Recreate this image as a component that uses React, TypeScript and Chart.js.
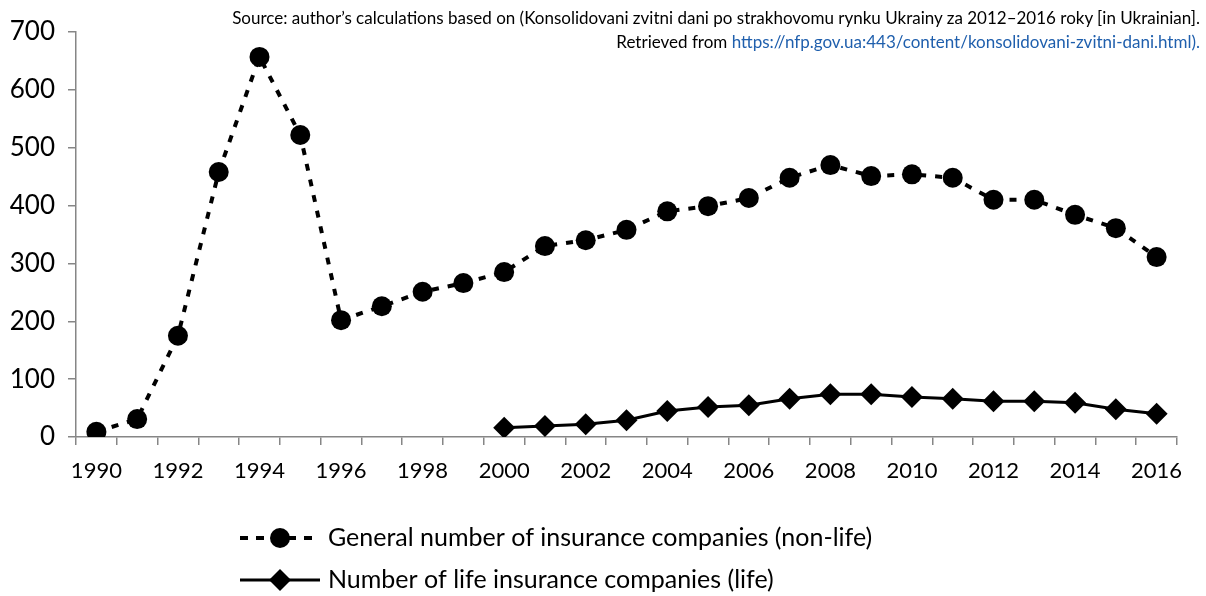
import React, { useEffect, useRef } from "react";
import { Chart, registerables } from "chart.js";

Chart.register(...registerables);

const years: string[] = [
  "1990", "1991", "1992", "1993", "1994", "1995", "1996", "1997", "1998", "1999",
  "2000", "2001", "2002", "2003", "2004", "2005", "2006", "2007", "2008", "2009",
  "2010", "2011", "2012", "2013", "2014", "2015", "2016",
];

const nonLife: number[] = [
  9, 31, 175, 458, 657, 522, 202, 226, 251, 266,
  285, 330, 340, 358, 390, 399, 413, 448, 470, 451,
  454, 448, 410, 410, 384, 361, 311,
];

const life: (number | null)[] = [
  null, null, null, null, null, null, null, null, null, null,
  16, 19, 22, 29, 45, 52, 55, 66, 74, 74,
  69, 66, 62, 62, 59, 48, 40,
];

const seriesNames: string[] = [
  "General number of insurance companies (non-life)",
  "Number of life insurance companies (life)",
];

const yTicks: number[] = [0, 100, 200, 300, 400, 500, 600, 700];

const FONT = "Lato, 'Open Sans', sans-serif";

const legendPlugin = {
  id: "customLegend",
  afterDraw(chart: any) {
    const ctx = chart.ctx as CanvasRenderingContext2D;
    ctx.save();
    const x0 = 240;
    const x1 = 320;
    const cx = 280;
    const rows = [538, 580];
    ctx.strokeStyle = "#000";
    ctx.fillStyle = "#000";
    ctx.lineWidth = 4;
    ctx.setLineDash([8, 8]);
    ctx.beginPath();
    ctx.moveTo(x0, rows[0]);
    ctx.lineTo(x1, rows[0]);
    ctx.stroke();
    ctx.setLineDash([]);
    ctx.beginPath();
    ctx.arc(cx, rows[0], 10, 0, Math.PI * 2);
    ctx.fill();
    ctx.lineWidth = 3;
    ctx.beginPath();
    ctx.moveTo(x0, rows[1]);
    ctx.lineTo(x1, rows[1]);
    ctx.stroke();
    ctx.beginPath();
    ctx.moveTo(cx, rows[1] - 11);
    ctx.lineTo(cx + 11, rows[1]);
    ctx.lineTo(cx, rows[1] + 11);
    ctx.lineTo(cx - 11, rows[1]);
    ctx.closePath();
    ctx.fill();
    ctx.font = `25px ${FONT}`;
    ctx.textBaseline = "middle";
    ctx.textAlign = "left";
    ctx.fillStyle = "#000";
    ctx.fillText(seriesNames[0], 328, rows[0]);
    ctx.fillText(seriesNames[1], 328, rows[1]);
    ctx.restore();
  },
};

export default function App() {
  const ref = useRef<HTMLCanvasElement | null>(null);

  useEffect(() => {
    if (!ref.current) return;
    const chart = new Chart(ref.current, {
      type: "line",
      data: {
        labels: years,
        datasets: [
          {
            label: seriesNames[0],
            data: nonLife,
            borderColor: "#000",
            backgroundColor: "#000",
            borderWidth: 4,
            borderDash: [7, 9],
            pointStyle: "circle",
            pointRadius: 10,
            pointHoverRadius: 10,
            pointBackgroundColor: "#000",
            pointBorderColor: "#000",
            pointBorderWidth: 0,
            tension: 0,
          },
          {
            label: seriesNames[1],
            data: life,
            borderColor: "#000",
            backgroundColor: "#000",
            borderWidth: 3,
            pointStyle: "rectRot",
            pointRadius: 11,
            pointHoverRadius: 11,
            pointBackgroundColor: "#000",
            pointBorderColor: "#000",
            pointBorderWidth: 0,
            tension: 0,
          },
        ],
      },
      options: {
        responsive: false,
        animation: false,
        devicePixelRatio: 1,
        layout: { padding: { top: 32, right: 29, left: 0, bottom: 0 } },
        plugins: {
          legend: { display: false },
          tooltip: { enabled: false },
          title: { display: false },
        },
        scales: {
          x: {
            type: "category",
            offset: true,
            grid: {
              offset: true,
              drawOnChartArea: false,
              drawTicks: true,
              tickLength: 8,
              color: "#868686",
              lineWidth: 1.5,
            },
            border: { color: "#868686", width: 1.5 },
            ticks: {
              autoSkip: false,
              maxRotation: 0,
              minRotation: 0,
              padding: 13,
              color: "#000",
              font: { family: FONT, size: 22 },
              callback: (_v: any, i: number) => (i % 2 === 0 ? years[i] : ""),
            },
            afterFit: (s: any) => {
              s.height = 159;
            },
          },
          y: {
            min: 0,
            max: 700,
            afterBuildTicks: (s: any) => {
              s.ticks = yTicks.map((v) => ({ value: v }));
            },
            grid: {
              drawOnChartArea: false,
              drawTicks: true,
              tickLength: 8,
              color: "#868686",
              lineWidth: 1.5,
            },
            border: { color: "#868686", width: 1.5 },
            ticks: {
              padding: 13,
              color: "#000",
              font: { family: FONT, size: 26 },
            },
            afterFit: (s: any) => {
              s.width = 76;
            },
          },
        },
      },
      plugins: [legendPlugin],
    });
    return () => chart.destroy();
  }, []);

  return (
    <div style={{ position: "absolute", left: 0, top: 0, width: 1206, height: 596 }}>
      <canvas ref={ref} width={1206} height={596} style={{ display: "block" }} />
      <div
        style={{
          position: "absolute",
          right: 6,
          top: 6,
          textAlign: "right",
          fontFamily: FONT,
          fontSize: 17,
          lineHeight: "24px",
          color: "#000",
          whiteSpace: "nowrap",
        }}
      >
        <div>
          Source: author’s calculations based on (Konsolidovani zvitni dani po strakhovomu rynku Ukrainy za 2012–2016 roky [in Ukrainian].
        </div>
        <div>
          Retrieved from{" "}
          <span style={{ color: "#1F5FAD" }}>
            https://nfp.gov.ua:443/content/konsolidovani-zvitni-dani.html).
          </span>
        </div>
      </div>
    </div>
  );
}
